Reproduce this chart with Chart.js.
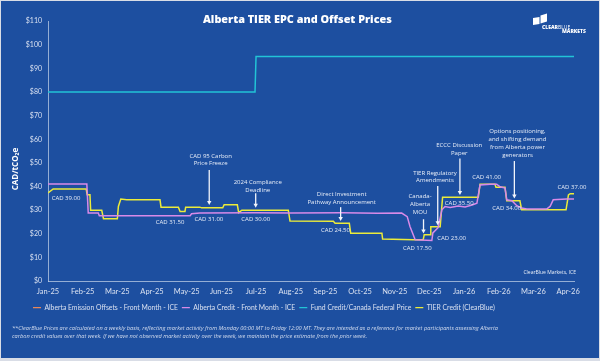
<!DOCTYPE html>
<html lang="en">
<head>
    <meta charset="UTF-8">
    <title>Alberta TIER EPC and Offset Prices</title>
    <script src="https://cdn.jsdelivr.net/npm/chart.js"></script>
    <style>
        * {
            box-sizing: border-box;
            margin: 0;
            padding: 0;
        }
        body {
            width: 600px;
            height: 361px;
            background: #d9dde6;
            overflow: hidden;
        }
        .frame {
            position: absolute;
            left: 1px;
            top: 1px;
            width: 598px;
            height: 357px;
            background: #1d4fa0;
        }
        .wrap {
            position: absolute;
            left: 0;
            top: 0;
            width: 600px;
            height: 361px;
        }
        .note {
            position: absolute;
            left: 12px;
            top: 325px;
            width: 590px;
            font-family: "Open Sans", sans-serif;
            font-style: italic;
            font-size: 5.65px;
            line-height: 7.6px;
            color: #d3dcee;
            white-space: nowrap;
        }
    </style>
</head>
<body>
    <div class="frame"></div>
    <div class="wrap"><canvas id="chart" width="600" height="361"></canvas></div>
    <div class="note">**ClearBlue Prices are calculated on a weekly basis, reflecting market activity from Monday 00:00 MT to Friday 12:00 MT. They are intended as a reference for market participants assessing Alberta<br>carbon credit values over that week. If we have not observed market activity over the week, we maintain the price estimate from the prior week.</div>

    <script>
        // month index: 0 = Jan-25 ... 15 = Apr-26
        const monthLabels = ["Jan-25", "Feb-25", "Mar-25", "Apr-25", "May-25", "Jun-25", "Jul-25", "Aug-25",
            "Sep-25", "Oct-25", "Nov-25", "Dec-25", "Jan-26", "Feb-26", "Mar-26", "Apr-26"];
        const yTicks = [0, 10, 20, 30, 40, 50, 60, 70, 80, 90, 100, 110];

        // [month, CAD/tCO2e]
        const offsetsIce = [];
        const albertaCreditIce = [
            [0, 41.1], [1.12, 41.1], [1.16, 28.8], [1.45, 28.8], [1.48, 27.7], [4.10, 27.7], [4.14, 28.5],
            [4.38, 28.8], [6.0, 28.9], [7.0, 28.8], [8.5, 28.9], [9.5, 28.7], [10.20, 28.8], [10.36, 27.3],
            [10.44, 23.1], [10.59, 17.5], [11.07, 17.2], [11.10, 20.4], [11.25, 22.6], [11.36, 30.2],
            [11.45, 31.6], [11.60, 31.2], [11.83, 31.8], [12.03, 31.4], [12.23, 32.2], [12.37, 33.0],
            [12.46, 40.7], [12.75, 41.0], [12.94, 41.0], [13.04, 39.9], [13.18, 39.4], [13.23, 34.4],
            [13.38, 34.0], [13.52, 31.9], [13.66, 30.9], [13.81, 30.5], [14.38, 30.5], [14.48, 31.6],
            [14.57, 34.4], [14.96, 34.7], [15.17, 34.7]
        ];
        const federalPrice = [[0, 80], [5.97, 80], [6.0, 95], [15.17, 95]];
        const tierCredit = [
            [0, 37.3], [0.15, 39.0], [1.10, 39.0], [1.13, 36.5], [1.21, 36.5], [1.23, 30.0], [1.55, 30.0],
            [1.60, 26.4], [2.00, 26.4], [2.03, 31.6], [2.10, 34.7], [2.27, 34.4], [3.23, 34.4], [3.26, 31.3],
            [3.76, 31.3], [3.81, 29.5], [3.95, 29.5], [3.97, 31.3], [4.38, 31.3], [4.43, 31.0], [5.04, 31.0],
            [5.08, 32.3], [5.46, 32.3], [5.50, 29.0], [5.59, 30.0], [6.93, 30.0], [6.98, 25.4], [8.23, 25.3],
            [8.28, 24.5], [8.69, 24.5], [8.73, 20.3], [9.63, 20.3], [9.65, 17.8], [10.54, 17.5], [10.82, 17.5],
            [10.85, 19.6], [11.02, 19.6], [11.04, 23.0], [11.31, 23.0], [11.38, 35.5], [12.41, 35.5],
            [12.46, 41.0], [12.89, 41.0], [12.92, 39.7], [13.18, 39.7], [13.23, 34.0], [13.61, 34.0],
            [13.66, 30.2], [14.94, 30.2], [15.01, 36.5], [15.06, 37.0], [15.17, 37.0]
        ];

        // price callouts: [month, value, text]
        const priceLabels = [
            [0.52, 35.1, "CAD 39.00"], [3.52, 25.1, "CAD 31.50"], [4.64, 26.2, "CAD 31.00"],
            [5.99, 26.2, "CAD 30.00"], [8.29, 21.6, "CAD 24.50"], [10.65, 13.8, "CAD 17.50"],
            [11.64, 18.3, "CAD 23.00"], [11.86, 33.1, "CAD 35.50"], [12.65, 43.9, "CAD 41.00"],
            [13.23, 30.8, "CAD 34.00"], [15.11, 39.5, "CAD 37.00"]
        ];
        // event notes: text month, first line value, lines, arrow month, arrow from, arrow to
        const eventNotes = [
            [4.69, 52.9, ["CAD 95 Carbon", "Price Freeze"], 4.65, 47.0, 32.2],
            [6.05, 41.8, ["2024 Compliance", "Deadline"], 5.99, 37.2, 31.0],
            [8.47, 36.8, ["Direct Investment", "Pathway Announcement"], 8.44, 31.3, 25.5],
            [10.73, 35.7, ["Canada-", "Alberta", "MOU"], 10.83, 26.2, 20.2],
            [11.16, 45.8, ["TIER Regulatory", "Amendments"], 11.24, 40.2, 23.7],
            [11.86, 57.5, ["ECCC Discussion", "Paper"], 11.88, 51.9, 36.4],
            [13.54, 63.2, ["Options positioning,", "and shifting demand", "from Alberta power", "generators"], 13.45, 50.8, 35.0]
        ];

        const toPts = arr => arr.map(p => ({ x: p[0], y: p[1] }));
        const textColor = '#d8e0f0';
        const axisFont = 'Lato, "Open Sans", sans-serif';

        const extras = {
            id: 'extras',
            beforeDraw(chart) {
                // legend starts a little in from the left edge, like the original
                if (chart.legend) chart.legend.left = 29;
            },
            afterDatasetsDraw(chart) {
                const { ctx, scales: { x, y } } = chart;
                ctx.save();
                ctx.fillStyle = '#e6ecf7';
                ctx.textAlign = 'center';
                ctx.textBaseline = 'middle';
                ctx.font = '6px "Open Sans", sans-serif';
                priceLabels.forEach(p => ctx.fillText(p[2], x.getPixelForValue(p[0]), y.getPixelForValue(p[1])));

                eventNotes.forEach(n => {
                    const tx = x.getPixelForValue(n[0]);
                    const ty = y.getPixelForValue(n[1]);
                    n[2].forEach((line, i) => ctx.fillText(line, tx, ty + i * 7.7));
                    const ax = x.getPixelForValue(n[3]);
                    const y1 = y.getPixelForValue(n[4]);
                    const y2 = y.getPixelForValue(n[5]);
                    ctx.strokeStyle = '#f2f5fb';
                    ctx.lineWidth = 1.3;
                    ctx.beginPath();
                    ctx.moveTo(ax, y1);
                    ctx.lineTo(ax, y2 - 3);
                    ctx.stroke();
                    ctx.fillStyle = '#f2f5fb';
                    ctx.beginPath();
                    ctx.moveTo(ax - 2.2, y2 - 4);
                    ctx.lineTo(ax + 2.2, y2 - 4);
                    ctx.lineTo(ax, y2);
                    ctx.closePath();
                    ctx.fill();
                    ctx.fillStyle = '#e6ecf7';
                });

                ctx.font = '5px "Open Sans", sans-serif';
                ctx.textAlign = 'right';
                ctx.fillText('ClearBlue Markets, ICE', 576, 273);
                ctx.restore();
            },
            afterDraw(chart) {
                const { ctx } = chart;
                ctx.save();
                // title, fitted to the span it takes in the original
                const title = 'Alberta TIER EPC and Offset Prices';
                ctx.fillStyle = '#ffffff';
                ctx.textBaseline = 'middle';
                ctx.textAlign = 'left';
                ctx.font = '800 12.5px "Open Sans", sans-serif';
                const tw = ctx.measureText(title).width;
                const size = Math.min(13.5, 12.5 * 189 / tw);
                ctx.font = '800 ' + size + 'px "Open Sans", sans-serif';
                ctx.fillText(title, 203, 20);

                // y axis title
                ctx.textAlign = 'center';
                ctx.save();
                ctx.translate(16, 169);
                ctx.rotate(-Math.PI / 2);
                ctx.font = 'bold 8px "Open Sans", sans-serif';
                ctx.fillText('CAD/tCO\u2082e', 0, 0);
                ctx.restore();

                // logo
                ctx.beginPath();
                ctx.moveTo(533, 18); ctx.lineTo(539.5, 17); ctx.lineTo(539.5, 24); ctx.lineTo(533, 25);
                ctx.closePath(); ctx.fill();
                ctx.beginPath();
                ctx.moveTo(540.5, 15.5); ctx.lineTo(547, 13.5); ctx.lineTo(547, 21.5); ctx.lineTo(540.5, 23.5);
                ctx.closePath(); ctx.fill();
                ctx.textAlign = 'left';
                ctx.font = '800 5px "Open Sans", sans-serif';
                ctx.fillText('CLEAR', 542, 27.8);
                const w = ctx.measureText('CLEAR').width;
                ctx.font = '5px "Open Sans", sans-serif';
                ctx.fillText('BLUE', 542 + w, 27.8);
                ctx.font = '800 5px "Open Sans", sans-serif';
                ctx.fillText('MARKETS', 562, 32);
                ctx.restore();
            }
        };

        const line = (label, color, data) => ({
            label: label,
            data: toPts(data),
            borderColor: color,
            backgroundColor: color,
            borderWidth: 1.5,
            pointRadius: 0,
            showLine: true,
            fill: false,
            tension: 0
        });

        new Chart(document.getElementById('chart'), {
            type: 'scatter',
            data: {
                datasets: [
                    line('Alberta Emission Offsets - Front Month - ICE', '#e8875a', offsetsIce),
                    line('Alberta Credit - Front Month - ICE', '#d88ae8', albertaCreditIce),
                    line('Fund Credit/Canada Federal Price', '#22c4d6', federalPrice),
                    line('TIER Credit (ClearBlue)', '#ecec3a', tierCredit)
                ]
            },
            options: {
                responsive: false,
                animation: false,
                layout: { padding: { left: 0, right: 26, top: 21, bottom: 40 } },
                plugins: {
                    tooltip: { enabled: false },
                    legend: {
                        position: 'bottom',
                        align: 'start',
                        labels: {
                            color: textColor,
                            font: { size: 6.8, family: axisFont },
                            boxWidth: 8,
                            boxHeight: 1.4,
                            padding: 4,
                            generateLabels(chart) {
                                const items = Chart.defaults.plugins.legend.labels.generateLabels(chart);
                                return items.map(it => Object.assign(it, { lineWidth: 0, fillStyle: it.strokeStyle }));
                            }
                        }
                    }
                },
                scales: {
                    x: {
                        type: 'linear',
                        min: 0,
                        max: 15.17,
                        afterBuildTicks: s => { s.ticks = monthLabels.map((_, i) => ({ value: i })); },
                        afterFit: s => { s.height = 19; },
                        grid: { display: false, drawTicks: false },
                        border: { color: 'rgba(190,205,230,0.75)', width: 1 },
                        ticks: {
                            color: textColor,
                            padding: 6,
                            maxRotation: 0,
                            autoSkip: false,
                            font: { size: 7.5, family: axisFont },
                            callback: v => monthLabels[v]
                        }
                    },
                    y: {
                        min: 0,
                        max: 110,
                        afterBuildTicks: s => { s.ticks = yTicks.map(v => ({ value: v })); },
                        afterFit: s => { s.width = 48; },
                        grid: { display: false, drawTicks: false },
                        border: { color: 'rgba(190,205,230,0.75)', width: 1 },
                        ticks: {
                            color: textColor,
                            padding: 6,
                            font: { size: 7, family: axisFont },
                            callback: v => '$' + v
                        }
                    }
                }
            },
            plugins: [extras]
        });
    </script>
</body>
</html>
